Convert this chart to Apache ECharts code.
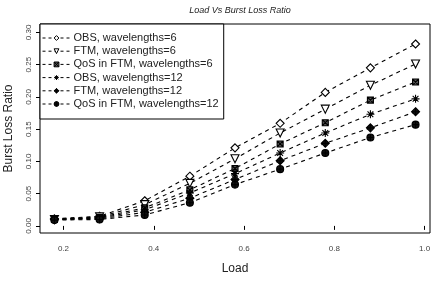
<!DOCTYPE html>
<html><head><meta charset="utf-8">
<script src="https://cdn.jsdelivr.net/npm/echarts@6/dist/echarts.min.js"></script>
<style>html,body{margin:0;padding:0;background:#fff}#c{width:431px;height:282px}</style>
</head><body><div id="c"></div>
<script>
const loads = [0.18,0.28,0.38,0.48,0.58,0.68,0.78,0.88,0.98];
const obs6  = [0.011,0.015,0.039,0.077,0.121,0.159,0.207,0.245,0.282];
const ftm6  = [0.010,0.014,0.033,0.066,0.104,0.144,0.181,0.218,0.251];
const qos6  = [0.010,0.013,0.028,0.056,0.089,0.127,0.160,0.195,0.223];
const obs12 = [0.010,0.012,0.025,0.051,0.081,0.113,0.144,0.173,0.197];
const ftm12 = [0.010,0.011,0.021,0.043,0.072,0.101,0.128,0.152,0.177];
const qos12 = [0.009,0.010,0.017,0.036,0.064,0.088,0.113,0.137,0.157];
const xTicks = [0.2,0.4,0.6,0.8,1.0];
const yTicks = [0,0.05,0.10,0.15,0.20,0.25,0.30];
const names = ['OBS, wavelengths=6','FTM, wavelengths=6','QoS in FTM, wavelengths=6','OBS, wavelengths=12','FTM, wavelengths=12','QoS in FTM, wavelengths=12'];
const values = [obs6,ftm6,qos6,obs12,ftm12,qos12];
const symbols = [
  {s:'path://M0,-1L1,0L0,1L-1,0Z', fill:'#fff', size:8},
  {s:'path://M-1,-0.85L1,-0.85L0,0.9Z', fill:'#fff', size:8},
  {s:'path://M-1,-1L1,-1L1,1L-1,1ZM-1,-1L1,1M1,-1L-1,1', fill:'#555', size:6},
  {s:'path://M0,-1L0,1M-1,0L1,0M-0.72,-0.72L0.72,0.72M0.72,-0.72L-0.72,0.72', fill:'#000', size:8},
  {s:'path://M0,-1L1,0L0,1L-1,0ZM0,-1L0,1M-1,0L1,0', fill:'#111', size:8},
  {s:'path://M1,0A1,1,0,1,1,-1,0A1,1,0,1,1,1,0ZM0,-1L0,1M-1,0L1,0', fill:'#111', size:7}
];
const series = values.map((v,i)=>({
  name:names[i], type:'line',
  data: loads.map((x,j)=>[x,v[j]]),
  symbol:symbols[i].s, symbolSize:symbols[i].size,
  itemStyle:{color:symbols[i].fill, borderColor:'#000', borderWidth:1.1},
  lineStyle:{color:'#000', width:1.1, type:[4,4]},
  emphasis:{disabled:true}
}));
const chart = echarts.init(document.getElementById('c'), null, {renderer:'canvas'});
chart.setOption({
  animation:false,
  backgroundColor:'#fff',
  title:{text:'Load Vs Burst Loss Ratio', left:235, textAlign:'center', top:1,
    textStyle:{fontFamily:'Liberation Sans', fontSize:9, fontStyle:'italic', fontWeight:'normal', color:'#222'}},
  grid:{left:40, top:24, right:1, bottom:49, show:true, borderColor:'#000', borderWidth:1,
    containLabel:false, outerBoundsMode:'none'},
  legend:{
    orient:'vertical', left:40, top:24,
    backgroundColor:'#fff', borderColor:'#000', borderWidth:1, borderRadius:0,
    padding:[8,5,9,2], itemGap:1.2, itemWidth:28, itemHeight:6,
    lineStyle:{width:1, type:[3,3]},
    itemStyle:{borderWidth:1},
    textStyle:{fontFamily:'Liberation Sans', fontSize:11, color:'#222', lineHeight:12, padding:[0,0,0,-2]},
    data:names
  },
  xAxis:{type:'value', min:0.148, max:1.012,
    name:'Load', nameLocation:'middle', nameGap:30,
    nameTextStyle:{fontFamily:'Liberation Sans', fontSize:12, color:'#222'},
    axisLine:{show:false}, splitLine:{show:false},
    axisTick:{show:true, length:4, lineStyle:{color:'#000'}, customValues:xTicks},
    axisLabel:{fontFamily:'Liberation Sans', fontSize:8, color:'#444', margin:12, customValues:xTicks,
      formatter:v=>v.toFixed(1)}
  },
  yAxis:{type:'value', min:-0.011, max:0.313,
    name:'Burst Loss Ratio', nameLocation:'middle', nameGap:25,
    nameTextStyle:{fontFamily:'Liberation Sans', fontSize:12, color:'#222'},
    axisLine:{show:false}, splitLine:{show:false},
    axisTick:{show:true, length:4, lineStyle:{color:'#000'}, customValues:yTicks},
    axisLabel:{fontFamily:'Liberation Sans', fontSize:8, color:'#444', margin:7, rotate:90, customValues:yTicks,
      formatter:v=>v.toFixed(2)}
  },
  series:series
});
</script></body></html>
